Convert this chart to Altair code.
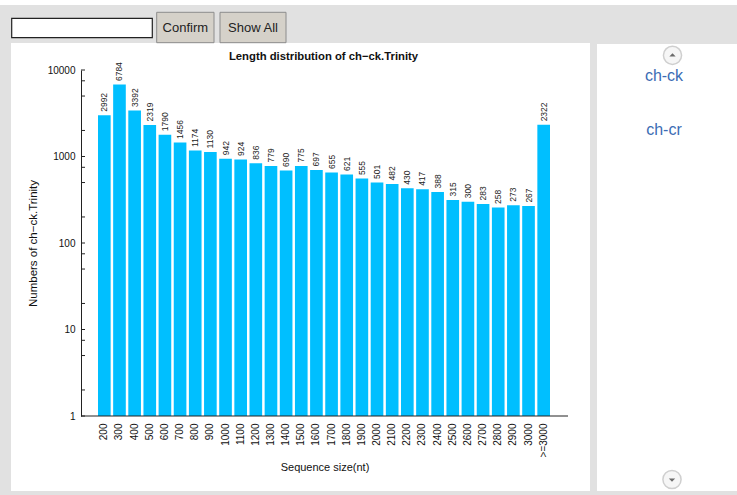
import altair as alt
import pandas as pd

# ---- data -------------------------------------------------------------
sizes = ["200", "300", "400", "500", "600", "700", "800", "900", "1000",
         "1100", "1200", "1300", "1400", "1500", "1600", "1700", "1800",
         "1900", "2000", "2100", "2200", "2300", "2400", "2500", "2600",
         "2700", "2800", "2900", "3000", ">=3000"]
counts = [2992, 6784, 3392, 2319, 1790, 1456, 1174, 1130, 942, 924, 836,
          779, 690, 775, 697, 655, 621, 555, 501, 482, 430, 417, 388, 315,
          300, 283, 258, 273, 267, 2322]
major_ticks = [1, 10, 100, 1000, 10000]
minor_ticks = [2, 5, 7.5, 20, 50, 75, 200, 500, 750, 2000, 5000, 7500]
samples = ["ch-ck", "ch-cr"]

# ---- page geometry (page pixels) ---------------------------------------
PAGE_W, PAGE_H = 737, 495
LEFT, TOP = 81, 70          # plot origin on the page
PLOT_W, PLOT_H = 487, 346
FONT = "Liberation Sans"


def px(x):
    return x - LEFT


def py(y):
    return y - TOP


one = pd.DataFrame({"k": [0]})


def box(x0, y0, x1, y1, fill, stroke=None, sw=0):
    kw = dict(fill=fill)
    if stroke:
        kw.update(stroke=stroke, strokeWidth=sw)
    return alt.Chart(one).mark_rect(**kw).encode(
        x=alt.value(px(x0)), x2=alt.value(px(x1)),
        y=alt.value(py(y0)), y2=alt.value(py(y1)))


def label(x, y, text, size, color, weight="normal", align="center", angle=0):
    return alt.Chart(one).mark_text(
        text=text, font=FONT, fontSize=size, color=color, fontWeight=weight,
        align=align, baseline="middle", angle=angle).encode(
        x=alt.value(px(x)), y=alt.value(py(y)))


def symbol(x, y, shape, size, fill, stroke=None, sw=0):
    kw = dict(shape=shape, size=size, filled=True, fill=fill, opacity=1)
    if stroke:
        kw.update(stroke=stroke, strokeWidth=sw)
    return alt.Chart(one).mark_point(**kw).encode(
        x=alt.value(px(x)), y=alt.value(py(y)))


# ---- page furniture: toolbar and panels ---------------------------------
page = [
    box(0, 0, PAGE_W, 5, "#ffffff"),
    box(11, 43, 590, 491, "#ffffff"),
    box(597, 44, PAGE_W, 491, "#ffffff"),
    box(11.7, 18.3, 152.3, 37.7, "#ffffff", "#222222", 1.2),
    box(156.7, 12.3, 214, 42.7, "#d5d1c9", "#8c8c8c", 1),
    box(220, 12.3, 286, 42.7, "#d5d1c9", "#8c8c8c", 1),
    label(185.3, 28, "Confirm", 13, "#222222"),
    label(253, 28, "Show All", 13, "#222222"),
    symbol(672.5, 55.3, "circle", 330, "#f6f6f6", "#cfcfcf", 1.5),
    symbol(672.5, 54.8, "M-1,0.5L1,0.5L0,-0.5Z", 40, "#6b6b6b"),
    symbol(672, 479.5, "circle", 330, "#f6f6f6", "#cfcfcf", 1.5),
    symbol(672, 480.2, "M-1,-0.5L1,-0.5L0,0.5Z", 40, "#6b6b6b"),
    label(664, 76, samples[0], 16, "#3b6cb4"),
    label(664, 130, samples[1], 16, "#3b6cb4"),
]

# ---- the bar chart --------------------------------------------------------
bars_df = pd.DataFrame({"size": sizes, "count": counts})
yscale = alt.Scale(type="log", domain=[1, 10000], nice=False)
xscale = alt.Scale(type="band", range=[17, 469], paddingInner=0.165,
                   paddingOuter=0)

x_enc = alt.X(
    "size:N", sort=sizes, scale=xscale,
    axis=alt.Axis(
        labelAngle=270, domain=False, ticks=False, tickSize=0,
        labelPadding=7, labelFontSize=10, labelFont=FONT, labelColor="#111111",
        labelOverlap=False, grid=False, zindex=2,
        title="Sequence size(nt)", titleFont=FONT, titleFontSize=11,
        titleFontWeight="normal", titleColor="#111111",
        titleX=PLOT_W / 2, titleY=467 - (TOP + PLOT_H),
        titleAlign="center", titleBaseline="middle"))

y_enc = alt.Y(
    "count:Q", scale=yscale,
    axis=alt.Axis(
        values=major_ticks, format="d", ticks=False, tickSize=0,
        domain=True, domainColor="#222222", labelPadding=6,
        labelFontSize=10, labelFont=FONT, labelColor="#111111",
        labelFlush=False, grid=False, zindex=2,
        title="Numbers of ch\u2212ck.Trinity", titleFont=FONT,
        titleFontSize=11.5, titleFontWeight="normal", titleColor="#111111",
        titleX=px(33), titleY=py(243), titleAngle=270,
        titleAlign="center", titleBaseline="middle"))

bars = alt.Chart(bars_df).mark_rect(fill="#00BFFF").encode(
    x=x_enc, y=y_enc, y2=alt.value(PLOT_H))

values = alt.Chart(bars_df).mark_text(
    angle=270, align="left", baseline="middle", dx=3.5,
    font=FONT, fontSize=8.5, color="#222222").encode(
    x=alt.X("size:N", sort=sizes, scale=xscale),
    y=alt.Y("count:Q", scale=yscale),
    text=alt.Text("count:Q", format="d"))

major = alt.Chart(pd.DataFrame({"count": major_ticks})).mark_rule(
    color="#222222").encode(
    y=alt.Y("count:Q", scale=yscale), x=alt.value(0), x2=alt.value(4))
minor = alt.Chart(pd.DataFrame({"count": minor_ticks})).mark_rule(
    color="#222222").encode(
    y=alt.Y("count:Q", scale=yscale), x=alt.value(0), x2=alt.value(4))

x_line = alt.Chart(one).mark_rule(color="#222222").encode(
    x=alt.value(0), x2=alt.value(PLOT_W), y=alt.value(PLOT_H))

title = label(LEFT + PLOT_W / 2 - 1, 57, "Length distribution of ch\u2212ck.Trinity",
              11.3, "#111111", weight="bold")

chart = alt.layer(
    *page, bars, values, major, minor, x_line, title
).properties(
    width=PLOT_W, height=PLOT_H,
    autosize=alt.AutoSizeParams(type="none"),
    padding={"left": LEFT, "top": TOP,
             "right": PAGE_W - LEFT - PLOT_W,
             "bottom": PAGE_H - TOP - PLOT_H},
    background="#e1e1e1",
).configure_view(stroke=None)

chart.save("out.html", embed_options={"renderer": "svg", "actions": False})
